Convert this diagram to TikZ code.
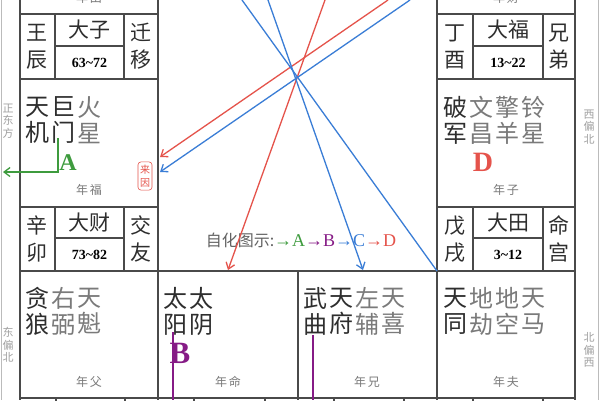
\documentclass[tikz,border=0pt]{standalone}
\usepackage{fontspec}
\setmainfont{Liberation Serif}
\newfontfamily\cjk{Noto Sans CJK SC}
\usetikzlibrary{arrows.meta}
\definecolor{bord}{HTML}{4A4A4A}
\definecolor{dark}{HTML}{2E2E2E}
\definecolor{minor}{HTML}{7A7A7A}
\definecolor{faint}{HTML}{A0A0A0}
\definecolor{edge}{HTML}{BBBBBB}
\definecolor{lblue}{HTML}{3A7DD6}
\definecolor{lred}{HTML}{E5534B}
\definecolor{lgreen}{HTML}{3E9B3E}
\definecolor{lpurple}{HTML}{861B86}
\begin{document}
\begin{tikzpicture}[x=1pt,y=-1pt,
  grid/.style={draw=bord,line width=1.2pt},
  outer/.style={draw=edge,line width=1pt},
  major/.style={font=\cjk\fontsize{24}{26}\selectfont,text=dark,align=center,inner sep=0pt},
  minorstar/.style={major,text=minor},
  info/.style={font=\cjk\fontsize{21}{27}\selectfont,text=dark,align=center,inner sep=0pt},
  num/.style={font=\bfseries\fontsize{14}{14}\selectfont,text=black,inner sep=0pt},
  yearlbl/.style={font=\cjk\fontsize{12}{12}\selectfont,text=minor,inner sep=0pt},
  side/.style={font=\cjk\fontsize{11}{12.5}\selectfont,text=faint,align=center,inner sep=0pt},
  letter/.style={font=\bfseries\fontsize{#1}{#1}\selectfont,inner sep=0pt},
  link/.style={line width=1.3pt,-{Straight Barb[length=6pt,width=9pt]}},
  plainlink/.style={line width=1.3pt},
]
\useasboundingbox (0,0) rectangle (600,400);
\fill[white] (0,0) rectangle (600,400);

% outer light lines
\draw[outer] (1,0) -- (1,400);
\draw[outer] (598,0) -- (598,400);

% left column
\draw[grid] (20,0) -- (20,400);
\draw[grid] (158,0) -- (158,400);
\draw[grid] (20,14) -- (158,14);
\draw[grid] (20,79) -- (158,79);
\draw[grid] (20,207) -- (158,207);
\draw[grid] (55,14) -- (55,79);
\draw[grid] (124,14) -- (124,79);
\draw[grid] (55,46) -- (124,46);
\draw[grid] (55,207) -- (55,271);
\draw[grid] (124,207) -- (124,271);
\draw[grid] (55,238) -- (124,238);
% right column
\draw[grid] (437,0) -- (437,400);
\draw[grid] (575,0) -- (575,400);
\draw[grid] (437,14) -- (575,14);
\draw[grid] (437,79) -- (575,79);
\draw[grid] (437,207) -- (575,207);
\draw[grid] (473,14) -- (473,79);
\draw[grid] (543,14) -- (543,79);
\draw[grid] (473,46) -- (543,46);
\draw[grid] (473,207) -- (473,271);
\draw[grid] (543,207) -- (543,271);
\draw[grid] (473,238) -- (543,238);
% bottom row
\draw[grid] (20,271) -- (575,271);
\draw[grid] (298,271) -- (298,400);
\draw[grid] (20,398) -- (575,398);
\foreach \xx in {56,125,194,265,334,404,473,543} \draw[grid] (\xx,398) -- (\xx,402);

% partial top labels (cut by the top edge, as in the reference)
\node[yearlbl] (ytl) at (89,-2) {年\,田};
\node[yearlbl] (ytr) at (506,-2) {年\,财};

% info boxes
\node[info] (i1a) at (37.5,46.5) {王\\辰};
\node[info] (i1b) at (89.5,30) {大子};
\node[num]  (i1c) at (89.5,62.5) {63\textasciitilde72};
\node[info] (i1d) at (141,46.5) {迁\\移};

\node[info] (i2a) at (455,46.5) {丁\\酉};
\node[info] (i2b) at (508,30) {大福};
\node[num]  (i2c) at (508,62.5) {13\textasciitilde22};
\node[info] (i2d) at (559,46.5) {兄\\弟};

\node[info] (i3a) at (37.5,239) {辛\\卯};
\node[info] (i3b) at (89.5,222.5) {大财};
\node[num]  (i3c) at (89.5,254.5) {73\textasciitilde82};
\node[info] (i3d) at (141,239) {交\\友};

\node[info] (i4a) at (455,239) {戊\\戌};
\node[info] (i4b) at (508,222.5) {大田};
\node[num]  (i4c) at (508,254.5) {3\textasciitilde12};
\node[info] (i4d) at (559,239) {命\\宫};

% stars
\node[major] (s11) at (37,120) {天\\机};
\node[major] (s12) at (63,120) {巨\\门};
\node[minorstar] (s13) at (89,120) {火\\星};

\node[major] (s21) at (455,120) {破\\军};
\node[minorstar] (s22) at (481,120) {文\\昌};
\node[minorstar] (s23) at (507,120) {擎\\羊};
\node[minorstar] (s24) at (533,120) {铃\\星};

\node[major] (s31) at (37,311) {贪\\狼};
\node[minorstar] (s32) at (63,311) {右\\弼};
\node[minorstar] (s33) at (89,311) {天\\魁};

\node[major] (s41) at (175,311) {太\\阳};
\node[major] (s42) at (201,311) {太\\阴};

\node[major] (s51) at (315,311) {武\\曲};
\node[major] (s52) at (341,311) {天\\府};
\node[minorstar] (s53) at (367,311) {左\\辅};
\node[minorstar] (s54) at (393,311) {天\\喜};

\node[major] (s61) at (455,311) {天\\同};
\node[minorstar] (s62) at (481,311) {地\\劫};
\node[minorstar] (s63) at (507,311) {地\\空};
\node[minorstar] (s64) at (533,311) {天\\马};

% year labels
\node[yearlbl] (y1) at (89,190) {年\,福};
\node[yearlbl] (y2) at (506,190) {年\,子};
\node[yearlbl] (y3) at (89,382) {年\,父};
\node[yearlbl] (y4) at (228,382) {年\,命};
\node[yearlbl] (y5) at (367,382) {年\,兄};
\node[yearlbl] (y6) at (506,382) {年\,夫};

% side labels
\node[side] (d1) at (8,121) {正\\东\\方};
\node[side] (d2) at (8,345) {东\\偏\\北};
\node[side] (d3) at (589,127) {西\\偏\\北};
\node[side] (d4) at (589,350) {北\\偏\\西};

% 来因 tag
\node[draw=lred,rounded corners=3pt,line width=0.6pt,text=lred,
      font=\cjk\fontsize{10}{13}\selectfont,align=center,
      inner xsep=2pt,inner ysep=3pt] (laiyin) at (145,176) {来\\因};

% letters
\node[letter=24,text=lgreen] (la) at (68,163) {A};
\node[letter=28,text=lred] (ld) at (483,162) {D};
\node[letter=31,text=lpurple] (lb) at (180,353) {B};

% legend
\node[inner sep=0pt] (legend) at (301,240)
  {{\cjk\fontsize{16}{17}\selectfont\color{minor!80!black}自化图示:}%
   {\fontsize{18}{18}\selectfont\textcolor{lgreen}{→A}\textcolor{lpurple}{→B}\textcolor{lblue}{→C}\textcolor{lred}{→D}}};

% connectors
\coordinate (r1a) at (325,0);  \coordinate (r1b) at (228,270);
\coordinate (r2a) at (388,0);  \coordinate (r2b) at (160,157);
\coordinate (b1a) at (410,0);  \coordinate (b1b) at (160,172);
\coordinate (b2a) at (242,0);  \coordinate (b2b) at (437,271);
\coordinate (b3a) at (268,0);  \coordinate (b3b) at (363,270);
\draw[link,lred] (r1a) -- (r1b);
\draw[link,lred] (r2a) -- (r2b);
\draw[link,lblue] (b1a) -- (b1b);
\draw[plainlink,lblue] (b2a) -- (b2b);
\draw[link,lblue] (b3a) -- (b3b);

\coordinate (ga) at (58,138); \coordinate (gb) at (58,172); \coordinate (gc) at (3,172);
\draw[link,lgreen] (ga) -- (gb) -- (gc);

\coordinate (pa) at (173,332); \coordinate (pb) at (173,400);
\coordinate (pc) at (313,335); \coordinate (pd) at (313,400);
\draw[plainlink,lpurple] (pa) -- (pb);
\draw[plainlink,lpurple] (pc) -- (pd);
\end{tikzpicture}
\end{document}
